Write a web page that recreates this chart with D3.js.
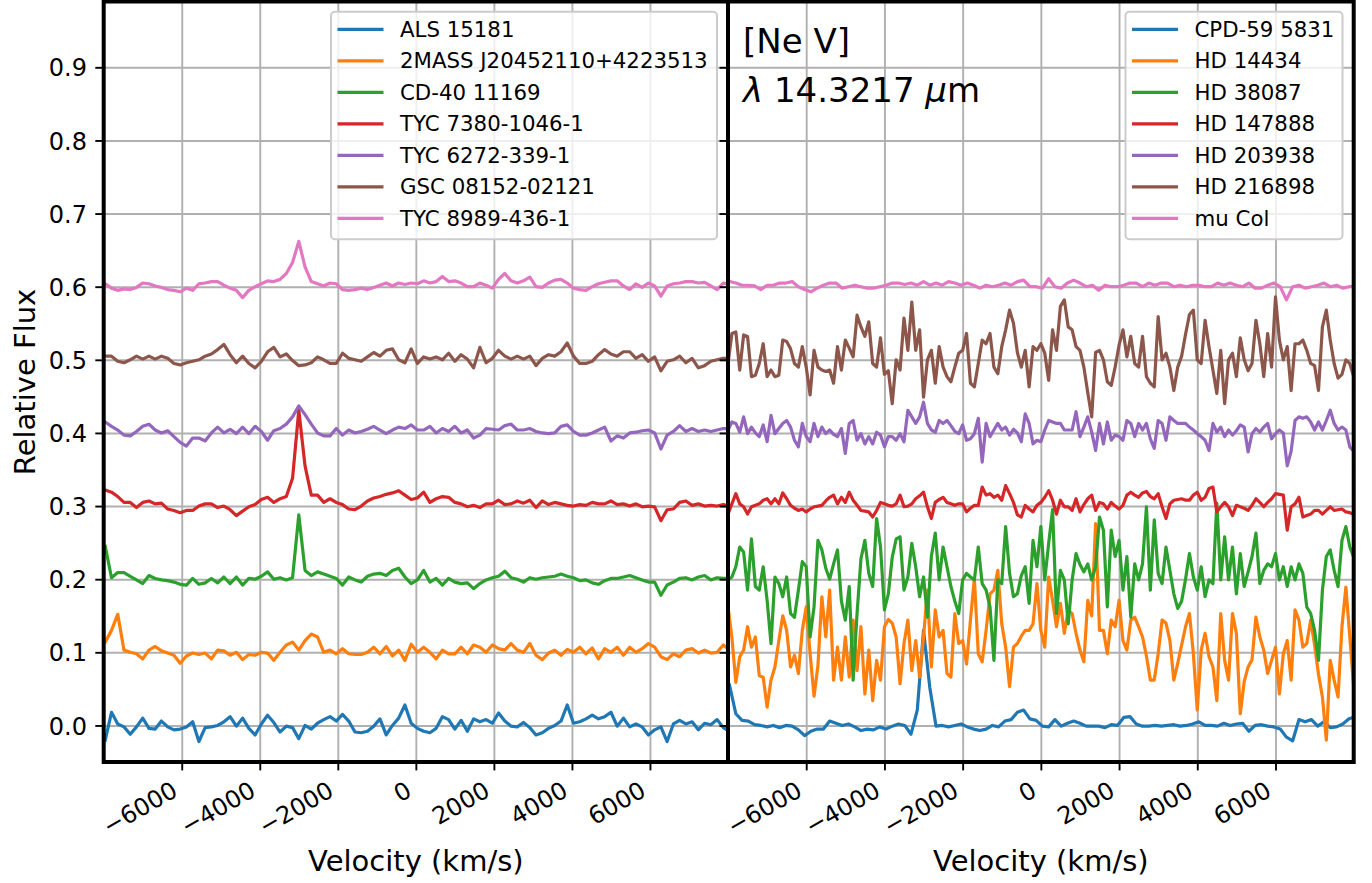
<!DOCTYPE html>
<html>
<head>
<meta charset="utf-8">
<script src="https://cdn.jsdelivr.net/npm/d3@7"></script>
<style>
body { margin: 0; background: #fff; }
svg { display: block; }
text { font-family: "DejaVu Sans", sans-serif; fill: #000; }
</style>
</head>
<body>
<script>
// velocity grids (km/s)
var velocity = [
  -7960, -7800, -7640, -7480, -7320, -7160, -7000, -6840, -6680, -6520,
  -6360, -6200, -6040, -5880, -5720, -5560, -5400, -5240, -5080, -4920,
  -4760, -4600, -4440, -4280, -4120, -3960, -3800, -3640, -3480, -3320,
  -3160, -3000, -2840, -2680, -2520, -2360, -2200, -2040, -1880, -1720,
  -1560, -1400, -1240, -1080, -920, -760, -600, -440, -280, -120,
  40, 200, 360, 520, 680, 840, 1000, 1160, 1320, 1480,
  1640, 1800, 1960, 2120, 2280, 2440, 2600, 2760, 2920, 3080,
  3240, 3400, 3560, 3720, 3880, 4040, 4200, 4360, 4520, 4680,
  4840, 5000, 5160, 5320, 5480, 5640, 5800, 5960, 6120, 6280,
  6440, 6600, 6760, 6920, 7080, 7240, 7400, 7560, 7720, 7880,
  8040
];
var velocityFine = [
  -8000, -7900, -7800, -7700, -7600, -7500, -7400, -7300, -7200, -7100,
  -7000, -6900, -6800, -6700, -6600, -6500, -6400, -6300, -6200, -6100,
  -6000, -5900, -5800, -5700, -5600, -5500, -5400, -5300, -5200, -5100,
  -5000, -4900, -4800, -4700, -4600, -4500, -4400, -4300, -4200, -4100,
  -4000, -3900, -3800, -3700, -3600, -3500, -3400, -3300, -3200, -3100,
  -3000, -2900, -2800, -2700, -2600, -2500, -2400, -2300, -2200, -2100,
  -2000, -1900, -1800, -1700, -1600, -1500, -1400, -1300, -1200, -1100,
  -1000, -900, -800, -700, -600, -500, -400, -300, -200, -100,
  0, 100, 200, 300, 400, 500, 600, 700, 800, 900,
  1000, 1100, 1200, 1300, 1400, 1500, 1600, 1700, 1800, 1900,
  2000, 2100, 2200, 2300, 2400, 2500, 2600, 2700, 2800, 2900,
  3000, 3100, 3200, 3300, 3400, 3500, 3600, 3700, 3800, 3900,
  4000, 4100, 4200, 4300, 4400, 4500, 4600, 4700, 4800, 4900,
  5000, 5100, 5200, 5300, 5400, 5500, 5600, 5700, 5800, 5900,
  6000, 6100, 6200, 6300, 6400, 6500, 6600, 6700, 6800, 6900,
  7000, 7100, 7200, 7300, 7400, 7500, 7600, 7700, 7800, 7900,
  8000
];

// relative flux minus continuum, in units of 0.001 (offset added when plotting)
var als15181 = [
  -20, 18, 2, -2, -12, -2, 10, -4, -5, 6,
  -2, -6, -5, -2, 5, -22, -3, -2, 0, 5,
  12, -1, 10, -4, -13, 2, 14, 4, -9, -1,
  -3, -18, 0, -5, 3, 8, 12, 6, 15, 6,
  -9, -10, -8, -1, 9, -13, 0, 10, 28, 3,
  -4, -8, -10, -4, 12, 8, -5, 7, -8, 9,
  5, 8, 3, 17, 6, -1, -2, 4, -3, -13,
  -10, -4, 0, 6, 28, 3, 5, 9, 14, 9,
  12, 18, -1, 10, -2, 2, -2, -13, -6, -2,
  -22, 2, 7, 2, 5, -6, 3, 1, 8, -3,
  -8
];
var j20452110 = [
  14, 30, 52, 3, 0, -2, -9, 3, 8, 2,
  -1, -4, -15, -5, -1, -3, -1, -9, 3, 2,
  -4, 0, -10, -3, -4, 0, -1, -11, 0, 10,
  14, 3, 16, 25, 21, 0, 3, -2, 5, -2,
  -3, -3, 0, 7, -2, 8, -5, 3, -11, 11,
  0, 7, 0, -9, 3, -2, -2, 7, -2, 10,
  7, 0, 10, 5, 3, 12, 3, 0, 12, -4,
  -10, -1, 3, -4, 4, 0, 7, -2, 6, -9,
  5, 0, 7, -4, 7, 0, 5, 12, 7, -6,
  -10, -2, -6, 3, 5, -1, 3, -1, 0, 10,
  3
];
var cd4011169 = [
  45, 2, 9, 9, 4, -1, -6, 5, 1, -1,
  -2, -4, -7, -8, 1, -7, -5, 1, -5, 3,
  -6, 3, -8, 1, 0, 4, 10, 0, 2, -1,
  2, 88, 12, 5, 10, 7, 4, 1, -8, 3,
  -1, -4, 4, 7, 8, 5, 12, 15, 3, -6,
  -1, 12, -4, 1, -8, 1, -4, -6, -5, -13,
  -6, -1, 2, 4, 11, 2, 0, -4, 2, 0,
  2, 3, 4, 7, 4, 2, -2, -1, -5, -7,
  -2, 1, 1, 3, 5, 2, -1, -4, -4, -22,
  -8, -4, 1, 2, -1, 3, 5, -1, 2, 1,
  1
];
var tyc7380 = [
  22, 19, 13, 5, 5, -2, 5, 7, 3, 4,
  -4, -6, -9, -6, -6, 0, 3, 3, -2, 0,
  -5, -13, -7, -1, 2, 9, 12, 5, 10, 13,
  38, 131, 55, 15, 15, 5, 10, 5, 2, -4,
  -5, 0, 7, 11, 13, 16, 18, 21, 15, 9,
  11, 19, 5, 10, 13, 12, 5, 3, -1, 1,
  -2, 3, 3, 8, 2, 3, 7, 4, 8, -2,
  7, 2, 5, 3, 1, 0, 2, 1, 5, 3,
  3, 7, 2, 3, 0, 3, -1, 0, -1, -20,
  -5, -4, 5, 7, 1, 3, 0, 1, 0, 2,
  0
];
var tyc6272 = [
  15, 9, 4, -3, -4, 2, 9, 12, 4, 0,
  3, -5, -13, -18, -7, -7, -11, 0, 8, 0,
  5, -1, 8, -1, 9, 2, -10, 3, 6, 12,
  22, 37, 25, 12, 0, -4, -4, 6, -3, 4,
  0, 2, 5, 9, 4, -1, 4, 8, 6, 11,
  4, 4, 9, 0, 6, 2, 9, 0, 4, -7,
  -3, 6, 5, 4, 10, 12, 4, 4, 6, 2,
  0, -1, 0, 9, 11, 2, -3, -3, 0, 4,
  8, -11, -4, -7, 0, 1, 3, 4, 0, -22,
  -3, 2, 10, 2, 6, 2, 4, 2, 4, 6,
  6
];
var gsc08152 = [
  5, 5, -2, -4, 0, 5, 1, 5, 1, 5,
  2, -5, -7, -4, -2, 0, 5, 8, 14, 21,
  7, -4, 5, -5, -11, -2, 11, 17, 4, 8,
  -1, -8, -7, -4, 4, 0, -5, -5, 9, 2,
  0, -2, 4, 10, 5, 13, 15, 0, -4, 15,
  -5, 4, 1, 4, 0, 9, -2, 7, 1, -11,
  17, -4, 2, 13, 5, 1, 5, 1, 5, -8,
  2, 7, 5, 11, 23, 5, -5, -5, -2, 7,
  14, 8, 5, 11, 11, 2, 7, -2, 4, -15,
  -2, 0, 5, -4, 2, -11, -8, -2, 0, 2,
  2
];
var tyc8989 = [
  4, -2, -5, -3, -4, -1, 5, 4, 1, -1,
  -4, -5, -7, -2, -5, 4, 5, 7, 7, 2,
  -2, -5, -15, -5, 0, 4, 8, 7, 10, 18,
  33, 62, 27, 7, 4, 1, 5, 4, -4, -5,
  -4, -2, -4, -1, 2, 5, 1, 5, 3, 5,
  4, 8, 5, 7, 14, 7, 8, 5, 0, 0,
  5, 2, -2, 10, 18, 8, 5, 8, 13, 0,
  -1, 5, 9, 10, 5, -2, -4, -5, 0, 4,
  6, 8, 8, 1, -4, 4, -1, 5, 1, -13,
  1, 4, 5, 7, 7, 5, 6, 1, -4, 5,
  3
];

// right panel: CPD-59 5831 and mu Col on the coarse grid, the rest on the fine grid
var cpd595831 = [
  55, 16, 7, 6, 1, 0, -2, 0, -3, 0,
  -1, -6, -14, -8, -5, -5, 6, 3, 0, 2,
  -2, -7, -5, -6, -2, -5, -1, 2, 0, -12,
  21, 130, 52, -1, 0, -2, 0, 2, -2, -5,
  -7, -5, 0, -2, 6, 8, 18, 21, 9, 7,
  -1, -2, 8, -1, 3, 6, 3, -1, -1, -1,
  -3, 1, 0, 11, 12, 2, -1, -1, 0, -1,
  0, 1, -1, 0, 2, 5, 0, 0, -1, 3,
  0, 2, 3, -8, 0, 1, -1, -2, -5, -16,
  -21, 8, 5, 8, -1, 5, -3, -2, 2, 9,
  12
];
var hd14434 = [
  62, 20, -41, -6, 3, 35, 7, 21, -32, -34,
  -75, -38, -20, 16, 50, 30, -20, -4, -29, 30,
  62, -2, -60, -18, 76, 21, 85, -38, 7, -38,
  21, -34, 44, -25, 35, -57, 3, -66, -11, -38,
  35, 45, 40, 21, -43, 12, 44, -25, 16, -34,
  21, 85, -20, 58, 21, 30, -29, -34, 53, 12,
  16, -16, 44, 101, -2, -13, 30, 80, 85, 112,
  39, 7, -47, 7, 12, 22, 30, 30, 39, 94,
  30, 7, 103, 71, 35, 67, 26, 58, 53, 26,
  3, -13, 71, 50, 176, 30, 30, -2, 44, 35,
  71, 16, 3, 44, 48, 35, 21, -5, -38, -38,
  -2, 44, 40, 16, -38, -15, 10, 35, 53, -2,
  -79, 3, 26, -6, -20, -66, 53, -11, -38, 53,
  26, -84, -40, -20, -10, 48, 21, 3, -29, -11,
  7, -57, -2, 16, -38, 58, 44, 7, 12, 44,
  10, -30, -61, -120, -11, -38, -61, 35, 89, 21,
  -47
];
var hd38087 = [
  -1, 3, 17, 44, 37, -15, 55, -10, -15, 17,
  -29, -88, 3, -6, -24, 3, -47, -52, -15, 24,
  17, -79, -38, 53, 40, 15, 0, 21, 40, -30,
  -56, -10, -138, -47, 28, 53, 8, -10, 83, 44,
  -42, -20, 30, 55, 58, -15, 3, 49, 17, -24,
  3, -52, 31, 63, -1, 44, 17, -10, -30, -47,
  -1, 8, 3, -1, 44, -6, -15, -38, -111, -1,
  -6, 72, 8, -24, -20, 5, 17, -33, 53, 17,
  72, -1, 49, 95, -47, 12, -1, -61, -1, 35,
  20, 10, 21, -1, 17, 85, 67, -38, 67, 31,
  53, -15, 31, -52, 21, -1, 21, 99, -15, 81,
  8, -6, 44, 12, -20, -40, -30, 0, 35, 3,
  -15, 17, -24, -1, -6, 104, -1, 58, -1, 44,
  -20, 35, -10, 10, 31, 63, -6, 12, 21, 17,
  35, -1, 17, -10, 17, -1, 21, 8, -38, -47,
  -70, -111, -15, 31, 40, 12, -10, 53, 72, 44,
  30
];
var hd147888 = [
  -11, 3, 17, 3, -1, -11, -1, 1, 3, 8,
  10, 3, 10, 3, 18, 10, 1, -3, -6, -4,
  -8, -4, -1, 0, 1, 7, 12, 15, 3, 12,
  5, 19, 8, 1, -6, -7, -8, -15, -6, 5,
  3, 1, 0, 3, 15, -1, 0, 3, 10, 14,
  19, -1, -17, 5, 9, 12, 5, 3, 1, 3,
  3, -8, -3, 1, 1, 26, 15, 17, 12, 15,
  8, 28, 17, 5, -12, -15, 1, -4, -8, 1,
  5, 12, 21, 8, -11, 8, -1, -1, -6, 10,
  -8, 2, 10, 15, -6, 5, 3, -4, 5, 0,
  -4, 1, 15, 19, 15, 12, 18, 20, 13, 10,
  17, -1, -17, 3, 8, 9, 10, 8, 8, 15,
  19, 8, 12, 24, 26, -8, -1, 5, -1, -13,
  1, -1, -3, -6, 1, 10, 5, -1, 5, 10,
  17, 16, 15, -33, -1, 3, 12, -15, -13, -11,
  -6, -6, -11, -6, -1, -6, -5, -4, -8, -9,
  -11
];
var hd203938 = [
  4, 15, 13, 1, 22, -1, 8, 0, -5, 11,
  -12, 24, -1, 6, 13, 17, 8, -10, -19, 13,
  -5, -12, 13, -5, 8, -1, 4, -2, -5, 6,
  -28, 13, 17, -10, -1, -15, -5, -15, 1, -3,
  -19, -5, -5, -10, -1, -12, 31, 22, 13, 22,
  42, 13, 4, 1, 17, 13, 17, 10, 2, -1,
  11, -10, -8, -1, 20, -40, 13, -5, 4, 13,
  4, 8, -3, 5, 0, -12, 26, 13, -15, -10,
  -12, 4, 17, 15, 13, 13, 4, 4, 4, 29,
  -5, 8, 22, 1, -24, 13, -15, 15, -10, -3,
  -5, -10, 17, 13, -5, 13, 4, 13, -8, -21,
  17, 13, -10, 22, 17, 13, 13, 13, 8, 4,
  -1, -5, -10, -24, 13, 1, 8, -5, 4, -3,
  3, 11, 8, -26, -1, 6, 1, 8, 13, -8,
  -1, 4, 0, -45, -25, 17, 22, 20, 22, 15,
  4, 15, 4, 17, 31, 13, 4, 8, 4, -19,
  -25
];
var hd216898 = [
  -5, 36, 38, -14, 34, 32, -23, -21, -5, 22,
  -23, -14, -23, -21, 27, 25, 15, -5, -10, 18,
  -10, -48, 13, -10, -14, -16, -14, -32, 18, -14,
  27, 16, 4, 61, 45, 32, 52, -5, -10, 30,
  -20, -15, -60, 0, -14, 57, 13, 79, 13, 41,
  -51, 0, 13, -32, 18, -10, -23, -30, -10, 9,
  13, 36, -32, -37, -5, 27, 22, 36, -10, -19,
  18, 41, 68, 50, 10, -10, 13, -37, 18, 13,
  22, 9, -28, 41, 13, 73, 82, 45, 41, 18,
  13, -10, -45, -78, 10, 13, 0, -30, -35, -10,
  20, 41, 4, 32, -5, -10, 32, -23, -32, -37,
  59, 0, 9, -10, -42, -10, 5, 35, 62, 68,
  0, -5, 54, 18, -14, -46, 13, -60, 0, 9,
  -23, 30, 0, -15, -5, 54, 22, -23, 36, -10,
  86, 27, 0, 18, -42, 22, 22, 27, 13, -5,
  -8, -42, 45, 68, 27, -5, -25, -20, 0, -5,
  -23
];
var muCol = [
  7, 5, 2, 2, 1, -4, 2, 2, 5, 5,
  7, 0, -4, -7, -2, 2, 5, 5, -2, 0,
  2, 0, -2, -2, 0, 2, 5, 5, 3, 5,
  2, 7, 2, 5, 2, 7, 5, 2, 5, 2,
  -2, 2, 0, 2, 5, 2, 7, 9, 0, 0,
  -2, 11, 0, -2, 5, 9, 5, 0, 2, -5,
  2, 0, 0, 2, 5, 5, 0, 5, 2, 5,
  5, 0, 2, 0, 2, 2, 0, 0, 5, 2,
  5, 2, 0, 5, -2, -2, 2, 5, 0, -18,
  0, 2, -2, 0, 2, 5, 0, 2, -2, 0,
  1
];

var leftNames = ["ALS 15181", "2MASS J20452110+4223513", "CD-40 11169", "TYC 7380-1046-1",
  "TYC 6272-339-1", "GSC 08152-02121", "TYC 8989-436-1"];
var rightNames = ["CPD-59 5831", "HD 14434", "HD 38087", "HD 147888",
  "HD 203938", "HD 216898", "mu Col"];
var offsets = [0, 0.1, 0.2, 0.3, 0.4, 0.5, 0.6];
var yTicks = [0, 0.1, 0.2, 0.3, 0.4, 0.5, 0.6, 0.7, 0.8, 0.9];
var xTicks = [-6000, -4000, -2000, 0, 2000, 4000, 6000];
var colors = ["#1f77b4", "#ff7f0e", "#2ca02c", "#d62728", "#9467bd", "#8c564b", "#e377c2"];

var width = 1372, height = 883;
var top_ = 1.5, bottom = 762;

var svg = d3.select("body").append("svg")
    .attr("width", width)
    .attr("height", height);

svg.append("rect").attr("width", width).attr("height", height).attr("fill", "#fff");

var yScale = d3.scaleLinear().domain([-0.05, 0.99]).range([bottom, top_]);

var panels = [
  { x0: 103.7, x1: 728, names: leftNames,
    series: [als15181, j20452110, cd4011169, tyc7380, tyc6272, gsc08152, tyc8989],
    grids: [velocity, velocity, velocity, velocity, velocity, velocity, velocity],
    legend: { x: 331, w: 386 }, yLabels: true },
  { x0: 728, x1: 1353.7, names: rightNames,
    series: [cpd595831, hd14434, hd38087, hd147888, hd203938, hd216898, muCol],
    grids: [velocity, velocityFine, velocityFine, velocityFine, velocityFine, velocityFine, velocity],
    legend: { x: 1125.5, w: 217 }, yLabels: false }
];

panels.forEach(function (p, pi) {
  var xScale = d3.scaleLinear().domain([-8000, 8000]).range([p.x0, p.x1]);
  var g = svg.append("g");

  g.append("clipPath").attr("id", "clip" + pi)
    .append("rect")
    .attr("x", p.x0).attr("y", top_)
    .attr("width", p.x1 - p.x0).attr("height", bottom - top_);

  // grid
  g.append("g")
    .attr("transform", "translate(0," + bottom + ")")
    .call(d3.axisBottom(xScale).tickValues(xTicks).tickSize(-(bottom - top_)).tickFormat(""))
    .call(function (a) { a.select(".domain").remove(); })
    .selectAll("line").attr("stroke", "#b0b0b0").attr("stroke-width", 1.9);

  g.append("g")
    .attr("transform", "translate(" + p.x0 + ",0)")
    .call(d3.axisLeft(yScale).tickValues(yTicks).tickSize(-(p.x1 - p.x0)).tickFormat(""))
    .call(function (a) { a.select(".domain").remove(); })
    .selectAll("line").attr("stroke", "#b0b0b0").attr("stroke-width", 1.9);

  // spectra
  var lines = g.append("g").attr("clip-path", "url(#clip" + pi + ")");
  p.series.forEach(function (s, i) {
    var grid = p.grids[i];
    var line = d3.line()
      .x(function (d, k) { return xScale(grid[k]); })
      .y(function (d) { return yScale(offsets[i] + d / 1000); });
    lines.append("path")
      .datum(s)
      .attr("d", line)
      .attr("fill", "none")
      .attr("stroke", colors[i])
      .attr("stroke-width", 3.2)
      .attr("stroke-linejoin", "round")
      .attr("stroke-linecap", "square");
  });

  // x axis ticks and labels
  var xa = g.append("g")
    .attr("transform", "translate(0," + bottom + ")")
    .call(d3.axisBottom(xScale).tickValues(xTicks).tickSize(8.4).tickFormat(d3.format("d")));
  xa.select(".domain").remove();
  xa.attr("font-size", null).attr("font-family", null);
  xa.selectAll("line").attr("stroke", "#000").attr("stroke-width", 1.9);
  xa.selectAll("text")
    .attr("y", 0).attr("x", 0).attr("dy", null)
    .attr("text-anchor", "end")
    .attr("font-size", 24)
    .attr("transform", "translate(-3,33) rotate(-30)");

  // y axis ticks and labels
  var ya = g.append("g")
    .attr("transform", "translate(" + p.x0 + ",0)")
    .call(d3.axisLeft(yScale).tickValues(yTicks).tickSize(8.4).tickPadding(8.4)
      .tickFormat(p.yLabels ? d3.format(".1f") : ""));
  ya.select(".domain").remove();
  ya.attr("font-size", null).attr("font-family", null);
  ya.selectAll("line").attr("stroke", "#000").attr("stroke-width", 1.9);
  ya.selectAll("text").attr("font-size", 24).attr("dy", "0.36em");

  // spines
  g.append("rect")
    .attr("x", p.x0).attr("y", top_)
    .attr("width", p.x1 - p.x0).attr("height", bottom - top_)
    .attr("fill", "none").attr("stroke", "#000").attr("stroke-width", 4);

  g.append("text")
    .attr("x", (p.x0 + p.x1) / 2).attr("y", 871)
    .attr("text-anchor", "middle")
    .attr("font-size", 29)
    .text("Velocity (km/s)");

  // legend
  var lg = g.append("g");
  lg.append("rect")
    .attr("x", p.legend.x).attr("y", 11.7)
    .attr("width", p.legend.w).attr("height", 227.5)
    .attr("rx", 4)
    .attr("fill", "#fff").attr("fill-opacity", 0.8)
    .attr("stroke", "#cccccc").attr("stroke-width", 2);
  p.names.forEach(function (name, i) {
    var ry = 29.3 + i * 31.5;
    lg.append("line")
      .attr("x1", p.legend.x + 6.5).attr("x2", p.legend.x + 52.5)
      .attr("y1", ry).attr("y2", ry)
      .attr("stroke", colors[i]).attr("stroke-width", 3.2);
    lg.append("text")
      .attr("x", p.legend.x + 69).attr("y", ry + 7.5)
      .attr("font-size", 21.3)
      .text(name);
  });
});

// y axis label
svg.append("text")
  .attr("transform", "translate(35,382) rotate(-90)")
  .attr("text-anchor", "middle")
  .attr("font-size", 29)
  .text("Relative Flux");

// line annotation in right panel
svg.append("text")
  .attr("x", 743).attr("y", 53)
  .attr("font-size", 34)
  .text("[Ne V]");

var lam = svg.append("text")
  .attr("x", 743).attr("y", 102)
  .attr("font-size", 34);
lam.append("tspan").attr("font-style", "italic").text("λ");
lam.append("tspan").text(" 14.3217 ");
lam.append("tspan").attr("font-style", "italic").text("μ");
lam.append("tspan").text("m");
</script>
</body>
</html>
